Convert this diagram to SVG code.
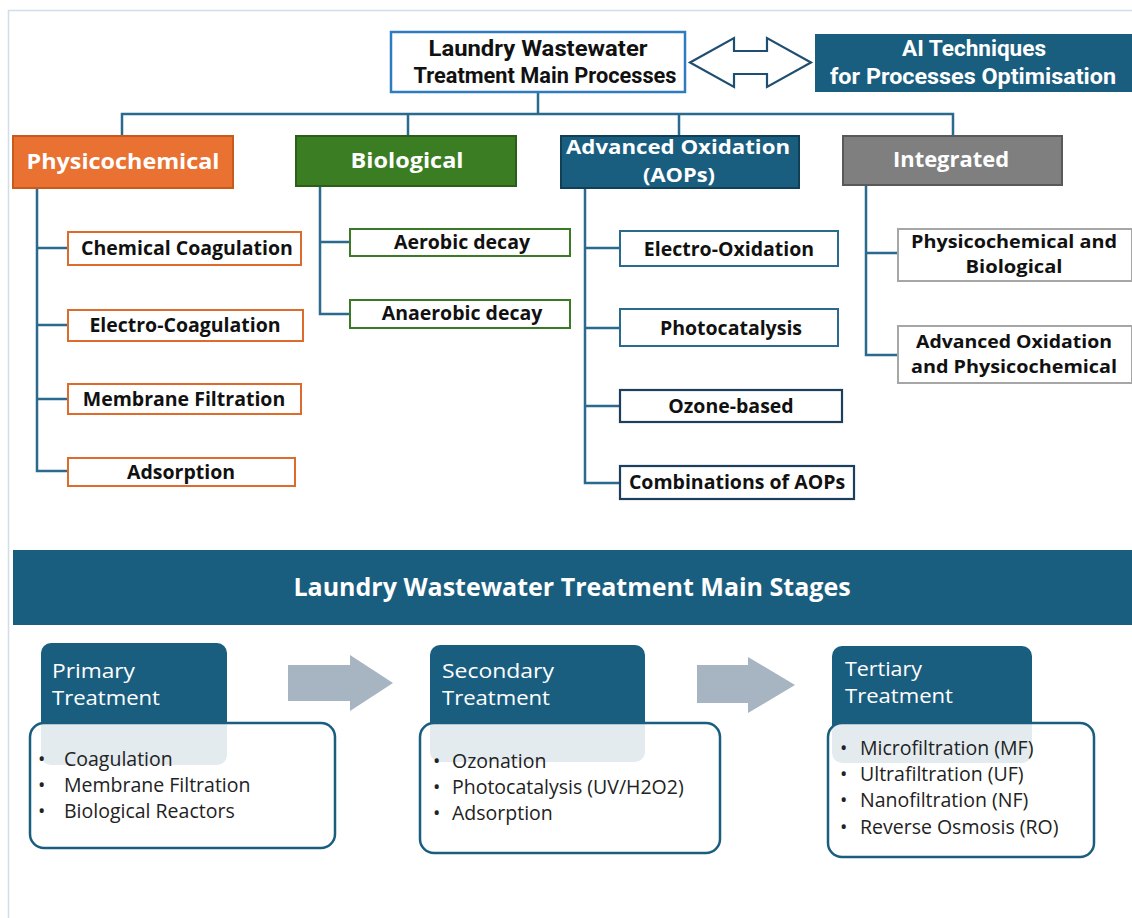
<svg xmlns="http://www.w3.org/2000/svg" width="1132" height="918" viewBox="0 0 1132 918">
  <style>
    .frame { fill: none; stroke: #d3dde8; stroke-width: 1.5; }
    .conn { fill: none; stroke: #2a6a8e; stroke-width: 2.5; }
    .title { font-family: "Roboto", "Liberation Sans", sans-serif; font-weight: bold; font-size: 22px; text-anchor: middle; }
    .cat { font-family: "Open Sans", "Noto Sans", sans-serif; font-weight: bold; font-size: 22px; fill: #ffffff; text-anchor: middle; }
    .cat2 { font-family: "Open Sans", "Noto Sans", sans-serif; font-weight: bold; font-size: 20px; fill: #ffffff; text-anchor: middle; }
    .item { font-family: "Open Sans", "Noto Sans", sans-serif; font-weight: bold; font-size: 19.5px; fill: #111111; text-anchor: middle; }
    .item2 { font-family: "Open Sans", "Noto Sans", sans-serif; font-weight: bold; font-size: 18px; fill: #111111; text-anchor: middle; }
    .box-o { fill: #ffffff; stroke: #dd6b2c; stroke-width: 2; }
    .box-g { fill: #ffffff; stroke: #3b7a25; stroke-width: 2; }
    .box-b { fill: #ffffff; stroke: #2a6a8e; stroke-width: 2; }
    .box-n { fill: #ffffff; stroke: #1d3f5e; stroke-width: 2.2; }
    .box-y { fill: #ffffff; stroke: #a6a6a6; stroke-width: 2; }
    .band { fill: #1a5e7f; }
    .stage-h { fill: #1a5e7f; }
    .stage-b { fill: #ffffff; fill-opacity: 0.88; stroke: #1a5e7f; stroke-width: 2.5; }
    .stage-t { font-family: "Open Sans", "Noto Sans", sans-serif; font-size: 20px; fill: #ffffff; }
    .bullet { font-family: "Open Sans", "Noto Sans", sans-serif; font-size: 19.5px; fill: #222222; }
    .flow { fill: #a7b4c1; }
  </style>

  <!-- page frame -->
  <path class="frame" d="M8.5,918 V10.5 H1132"/>

  <!-- connectors -->
  <g id="connectors">
    <path class="conn" d="M538,92 V114 M122,136 V114 H953 V136 M408,114 V136 M679,114 V136"/>
    <path class="conn" d="M37,188 V471 H68 M37,248 H68 M37,325 H68 M37,399 H68"/>
    <path class="conn" d="M320,186 V314 H350 M320,242 H350"/>
    <path class="conn" d="M585,188 V483 H620 M585,248 H620 M585,328 H620 M585,406 H620"/>
    <path class="conn" d="M866,185 V355 H898 M866,253 H898"/>
    <!-- two-way link between main processes and AI -->
    <path d="M690,62.5 L734,38 V51 H767 V38 L811,62.5 L767,87 V74 H734 V87 Z" fill="#ffffff" stroke="#1e4f72" stroke-width="2.2" stroke-linejoin="miter"/>
  </g>

  <!-- header nodes -->
  <g id="main-processes">
    <rect x="391" y="32" width="294" height="60" fill="#ffffff" stroke="#2f7bbf" stroke-width="2.5"/>
    <text class="title" x="538" y="56" fill="#111111" textLength="219" lengthAdjust="spacingAndGlyphs">Laundry Wastewater</text>
    <text class="title" x="545" y="83" fill="#111111" textLength="263" lengthAdjust="spacingAndGlyphs">Treatment Main Processes</text>
  </g>
  <g id="ai-techniques">
    <rect x="815" y="34" width="317" height="58" fill="#1a5e7f"/>
    <text class="title" x="974" y="56" fill="#ffffff" textLength="144" lengthAdjust="spacingAndGlyphs">AI Techniques</text>
    <text class="title" x="973" y="84" fill="#ffffff" textLength="286" lengthAdjust="spacingAndGlyphs">for Processes Optimisation</text>
  </g>

  <!-- categories -->
  <g id="physicochemical">
    <rect x="13" y="136" width="220" height="52" fill="#e97132" stroke="#c85a1c" stroke-width="2"/>
    <text class="cat" x="123" y="169" textLength="193" lengthAdjust="spacingAndGlyphs">Physicochemical</text>
  </g>
  <g id="biological">
    <rect x="296" y="136" width="220" height="50" fill="#3a7d22" stroke="#2b5e19" stroke-width="2"/>
    <text class="cat" x="407" y="168" textLength="113" lengthAdjust="spacingAndGlyphs">Biological</text>
  </g>
  <g id="aops">
    <rect x="561" y="136" width="238" height="52" fill="#1a5e7f" stroke="#103f57" stroke-width="2"/>
    <text class="cat2" x="678" y="154" textLength="224" lengthAdjust="spacingAndGlyphs">Advanced Oxidation</text>
    <text class="cat2" x="679" y="182" textLength="72" lengthAdjust="spacingAndGlyphs">(AOPs)</text>
  </g>
  <g id="integrated">
    <rect x="843" y="136" width="219" height="49" fill="#7f7f7f" stroke="#595959" stroke-width="2"/>
    <text class="cat" x="951" y="167" textLength="116" lengthAdjust="spacingAndGlyphs">Integrated</text>
  </g>

  <!-- physicochemical items -->
  <g id="chemical-coagulation">
    <rect class="box-o" x="68" y="232" width="233" height="33"/>
    <text class="item" x="187" y="255">Chemical Coagulation</text>
  </g>
  <g id="electro-coagulation">
    <rect class="box-o" x="68" y="310" width="235" height="31"/>
    <text class="item" x="185" y="332">Electro-Coagulation</text>
  </g>
  <g id="membrane-filtration">
    <rect class="box-o" x="68" y="384" width="233" height="30"/>
    <text class="item" x="184" y="406">Membrane Filtration</text>
  </g>
  <g id="adsorption">
    <rect class="box-o" x="68" y="458" width="227" height="28"/>
    <text class="item" x="181" y="479">Adsorption</text>
  </g>

  <!-- biological items -->
  <g id="aerobic-decay">
    <rect class="box-g" x="350" y="229" width="220" height="27"/>
    <text class="item" x="462" y="249">Aerobic decay</text>
  </g>
  <g id="anaerobic-decay">
    <rect class="box-g" x="350" y="300" width="220" height="28"/>
    <text class="item" x="462" y="320">Anaerobic decay</text>
  </g>

  <!-- AOP items -->
  <g id="electro-oxidation">
    <rect class="box-b" x="620" y="231" width="218" height="35"/>
    <text class="item" x="729" y="256">Electro-Oxidation</text>
  </g>
  <g id="photocatalysis">
    <rect class="box-b" x="620" y="309" width="218" height="37"/>
    <text class="item" x="731" y="335">Photocatalysis</text>
  </g>
  <g id="ozone-based">
    <rect class="box-n" x="620" y="390" width="222" height="32"/>
    <text class="item" x="731" y="413">Ozone-based</text>
  </g>
  <g id="combinations-aops">
    <rect class="box-n" x="620" y="466" width="234" height="33"/>
    <text class="item" x="737" y="489">Combinations of AOPs</text>
  </g>

  <!-- integrated items -->
  <g id="physico-biological">
    <rect class="box-y" x="898" y="229" width="234" height="52"/>
    <text class="item2" x="1014" y="248" textLength="206" lengthAdjust="spacingAndGlyphs">Physicochemical and</text>
    <text class="item2" x="1014" y="273" textLength="97" lengthAdjust="spacingAndGlyphs">Biological</text>
  </g>
  <g id="aop-physico">
    <rect class="box-y" x="898" y="326" width="234" height="57"/>
    <text class="item2" x="1014" y="348" textLength="196" lengthAdjust="spacingAndGlyphs">Advanced Oxidation</text>
    <text class="item2" x="1014" y="373" textLength="206" lengthAdjust="spacingAndGlyphs">and Physicochemical</text>
  </g>

  <!-- treatment stages -->
  <g id="stages-title">
    <rect class="band" x="13" y="550" width="1119" height="75"/>
    <text x="572" y="596" font-family="Open Sans, Noto Sans, sans-serif" font-weight="bold" font-size="25" fill="#ffffff" text-anchor="middle">Laundry Wastewater Treatment Main Stages</text>
  </g>

  <g id="primary">
    <rect class="stage-h" x="41" y="643" width="186" height="122" rx="10"/>
    <text class="stage-t" x="52" y="678" textLength="83" lengthAdjust="spacingAndGlyphs">Primary</text>
    <text class="stage-t" x="52" y="705" textLength="108" lengthAdjust="spacingAndGlyphs">Treatment</text>
    <rect class="stage-b" x="30" y="723" width="305" height="125" rx="14"/>
    <text class="bullet" x="38" y="766">•</text><text class="bullet" x="64" y="766">Coagulation</text>
    <text class="bullet" x="38" y="792">•</text><text class="bullet" x="64" y="792">Membrane Filtration</text>
    <text class="bullet" x="38" y="818">•</text><text class="bullet" x="64" y="818">Biological Reactors</text>
  </g>

  <path id="flow-1" class="flow" d="M288,665 H350 V655 L393,683 L350,711 V701 H288 Z"/>

  <g id="secondary">
    <rect class="stage-h" x="430" y="645" width="215" height="117" rx="10"/>
    <text class="stage-t" x="442" y="678" textLength="112" lengthAdjust="spacingAndGlyphs">Secondary</text>
    <text class="stage-t" x="442" y="705" textLength="108" lengthAdjust="spacingAndGlyphs">Treatment</text>
    <rect class="stage-b" x="420" y="723" width="300" height="130" rx="14"/>
    <text class="bullet" x="433" y="768">•</text><text class="bullet" x="452" y="768">Ozonation</text>
    <text class="bullet" x="433" y="794">•</text><text class="bullet" x="452" y="794">Photocatalysis (UV/H2O2)</text>
    <text class="bullet" x="433" y="820">•</text><text class="bullet" x="452" y="820">Adsorption</text>
  </g>

  <path id="flow-2" class="flow" d="M697,665 H748 V657 L795,685 L748,713 V703 H697 Z"/>

  <g id="tertiary">
    <rect class="stage-h" x="832" y="646" width="200" height="117" rx="10"/>
    <text class="stage-t" x="845" y="676" textLength="77" lengthAdjust="spacingAndGlyphs">Tertiary</text>
    <text class="stage-t" x="845" y="703" textLength="108" lengthAdjust="spacingAndGlyphs">Treatment</text>
    <rect class="stage-b" x="828" y="723" width="266" height="134" rx="14"/>
    <text class="bullet" x="840" y="755">•</text><text class="bullet" x="860" y="755">Microfiltration (MF)</text>
    <text class="bullet" x="840" y="781">•</text><text class="bullet" x="860" y="781">Ultrafiltration (UF)</text>
    <text class="bullet" x="840" y="807">•</text><text class="bullet" x="860" y="807">Nanofiltration (NF)</text>
    <text class="bullet" x="840" y="834">•</text><text class="bullet" x="860" y="834">Reverse Osmosis (RO)</text>
  </g>
</svg>
